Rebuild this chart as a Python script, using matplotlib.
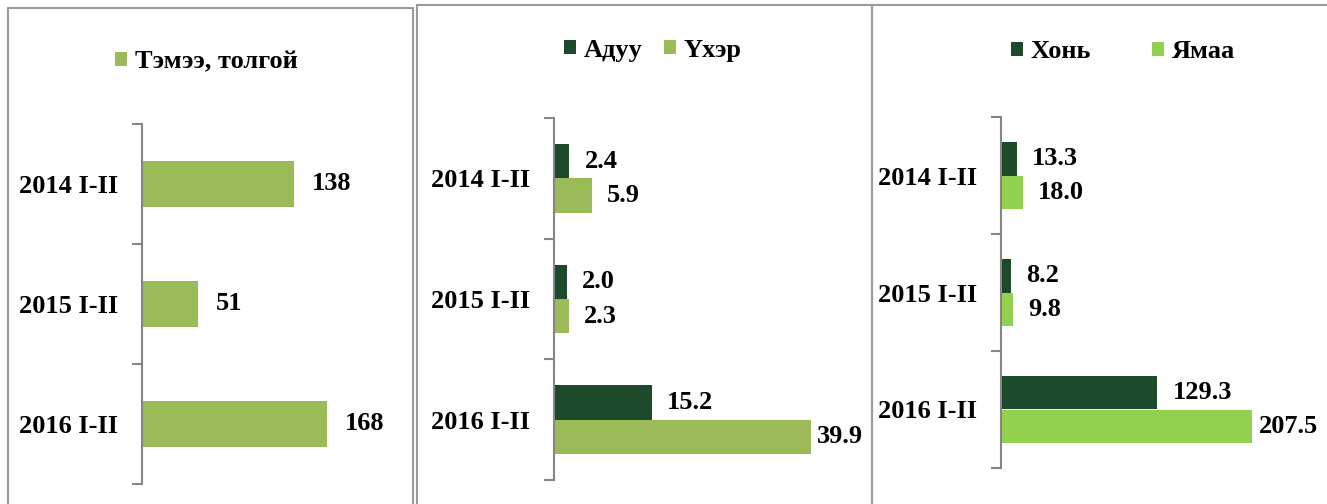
import matplotlib.pyplot as plt
from matplotlib.patches import Rectangle
import numpy as np

plt.rcParams['font.family'] = ['Liberation Serif', 'DejaVu Serif']
plt.rcParams['font.weight'] = 'bold'

W, H = 1327, 504

periods = ['2014 I-II', '2015 I-II', '2016 I-II']

camel = [138, 51, 168]
horse = [2.4, 2.0, 15.2]
cattle = [5.9, 2.3, 39.9]
sheep = [13.3, 8.2, 129.3]
goat = [18.0, 9.8, 207.5]

light_green = '#9BBB59'
goat_green = '#92D050'
dark_green = '#1C4A2A'
fsize = 19


def px_axes(fig, left, top, right, bottom):
    return fig.add_axes([left / W, 1 - bottom / H, (right - left) / W, (bottom - top) / H])


def style_axes(ax):
    for s in ['top', 'right', 'bottom']:
        ax.spines[s].set_visible(False)
    ax.spines['left'].set_color('#868686')
    ax.spines['left'].set_linewidth(1.5)
    ax.set_xticks([])
    ax.set_yticks(np.arange(len(periods)))
    ax.set_yticklabels(periods, fontsize=fsize, fontweight='bold')
    ax.tick_params(axis='y', which='major', length=0, pad=17)
    ax.set_yticks(np.arange(len(periods) + 1) - 0.5, minor=True)
    ax.tick_params(axis='y', which='minor', length=7, width=1.5, color='#868686')
    ax.set_ylim(len(periods) - 0.5, -0.5)
    ax.patch.set_alpha(0)


def label_bars(ax, bars, values, fmt, pads):
    for b, v, p in zip(bars, values, pads):
        ax.annotate(fmt.format(v), (b.get_width(), b.get_y() + b.get_height() / 2),
                    xytext=(p, 0), textcoords='offset pixels', va='center', ha='left',
                    fontsize=fsize, fontweight='bold')


fig = plt.figure(figsize=(W / 100, H / 100), dpi=100)

# panel borders
for x0, y0, x1 in [(8, 8, 413), (417, 5, 872), (872, 5, 1340)]:
    fig.add_artist(Rectangle((x0 / W, -0.1), (x1 - x0) / W, 1.1 - y0 / H,
                             transform=fig.transFigure, fill=False,
                             edgecolor='#9A9A9A', linewidth=1.5))

y = np.arange(len(periods))

# panel 1: camels
ax1 = px_axes(fig, 142, 124, 395, 484)
b = ax1.barh(y, camel, height=0.38, color=light_green, label='Тэмээ, толгой')
ax1.set_xlim(0, 253 / 1.101)
style_axes(ax1)
label_bars(ax1, b, camel, '{:d}', [18, 18, 18])
fig.legend(handles=[b], loc='center', bbox_to_anchor=(206 / W, 1 - 62 / H), frameon=False,
           prop={'size': fsize, 'weight': 'bold'}, handlelength=0.45, handleheight=0.45,
           handletextpad=0.3)

# panel 2: horses, cattle
bh = 0.285
ax2 = px_axes(fig, 554, 118, 850, 480)
b1 = ax2.barh(y - bh / 2, horse, height=bh, color=dark_green, label='Адуу')
b2 = ax2.barh(y + bh / 2, cattle, height=bh, color=light_green, label='Үхэр')
ax2.set_xlim(0, 296 / 6.43)
style_axes(ax2)
label_bars(ax2, b1, horse, '{:.1f}', [15, 15, 15])
label_bars(ax2, b2, cattle, '{:.1f}', [15, 15, 6])
fig.legend(handles=[b1, b2], loc='center', bbox_to_anchor=(653 / W, 1 - 50 / H), ncol=2,
           frameon=False, prop={'size': fsize, 'weight': 'bold'}, handlelength=0.45,
           handleheight=0.45, handletextpad=0.3, columnspacing=0.8)

# panel 3: sheep, goats
ax3 = px_axes(fig, 1001, 117, 1310, 468)
b3 = ax3.barh(y - bh / 2, sheep, height=bh, color=dark_green, label='Хонь')
b4 = ax3.barh(y + bh / 2, goat, height=bh, color=goat_green, label='Ямаа')
ax3.set_xlim(0, 309 / 1.21)
style_axes(ax3)
label_bars(ax3, b3, sheep, '{:.1f}', [15, 15, 15])
label_bars(ax3, b4, goat, '{:.1f}', [15, 15, 7])
fig.legend(handles=[b3, b4], loc='center', bbox_to_anchor=(1123 / W, 1 - 52 / H), ncol=2,
           frameon=False, prop={'size': fsize, 'weight': 'bold'}, handlelength=0.45,
           handleheight=0.45, handletextpad=0.3, columnspacing=2.3)

fig.savefig('out.png', dpi=100)
